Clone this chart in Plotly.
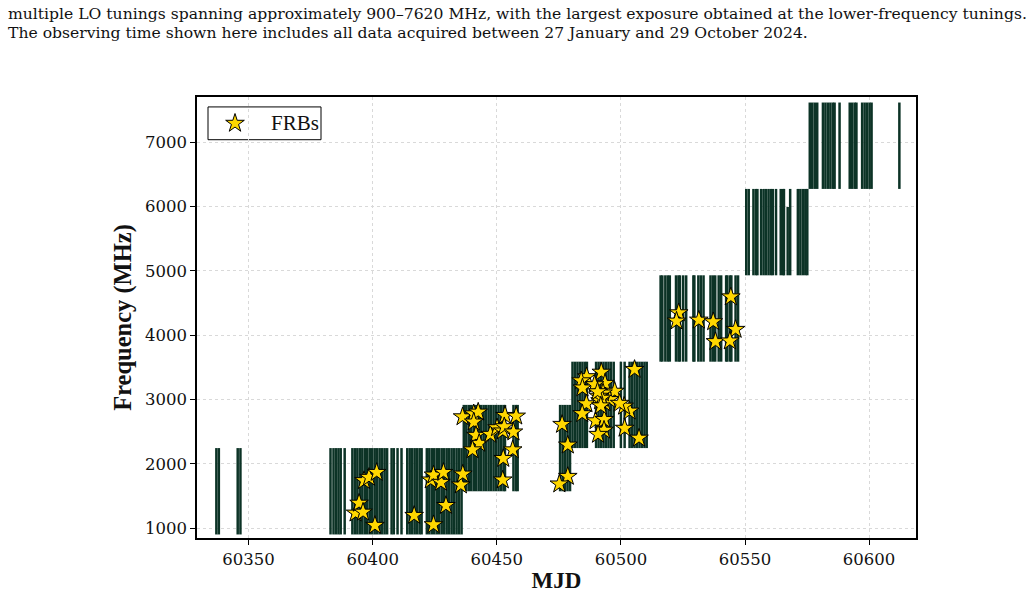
import plotly.graph_objects as go

# ---------------- data ----------------
band_lo = [900, 1572, 2244, 3588, 4932, 6276]
band_hi = [2244, 2916, 3588, 4932, 6276, 7620]

sessions_b1 = [60337.0, 60338.0, 60345.6, 60346.7,
               60383.0, 60384.2, 60385.2, 60386.2, 60387.1, 60388.7,
               60391.8, 60392.8, 60393.8, 60394.8, 60395.8, 60396.8, 60397.8, 60398.8,
               60399.8, 60400.8, 60401.8, 60402.8, 60403.8, 60404.8, 60405.8,
               60407.6, 60408.5, 60410.0, 60411.6,
               60413.9, 60414.9, 60415.9, 60416.9, 60417.9, 60418.9, 60419.7,
               60421.8, 60422.8, 60423.8, 60424.8, 60425.8, 60426.8, 60427.8, 60428.8,
               60429.8, 60430.8, 60431.8, 60432.8, 60433.8, 60434.8, 60435.8]
sessions_b2 = [60436.7, 60437.7, 60438.7, 60439.7, 60440.7, 60441.7, 60442.7, 60443.7,
               60444.7, 60445.7, 60446.7, 60447.7, 60448.7, 60449.7, 60450.7, 60451.7,
               60452.7, 60453.3, 60456.7, 60457.7, 60458.4,
               60475.5, 60476.5, 60477.5, 60478.5, 60479.5]
sessions_b3 = [60480.5, 60481.5, 60482.5, 60483.5, 60484.5, 60485.5, 60486.3,
               60490.0, 60491.0, 60492.0, 60493.0, 60494.0, 60495.0, 60496.0, 60497.1,
               60500.0, 60501.5,
               60503.5, 60504.5, 60505.5, 60506.5, 60507.5, 60508.5, 60509.5, 60510.4]
sessions_b4 = [60516.0, 60516.7, 60517.9, 60518.9, 60519.7, 60522.2, 60523.2, 60523.8,
               60525.1, 60526.3, 60529.2, 60529.6, 60531.2, 60532.2, 60533.3,
               60536.1, 60537.1, 60538.0, 60539.4, 60540.4, 60542.4, 60542.9,
               60544.0, 60544.5, 60546.2, 60547.2]
sessions_b5 = [60550.5, 60551.5, 60553.4, 60554.4, 60555.0, 60556.5, 60557.5, 60558.5,
               60559.5, 60560.5, 60561.2, 60562.5, 60564.4, 60565.4, 60565.7, 60568.2,
               60571.3, 60572.3, 60573.3, 60574.3, 60575.1]
sessions_b6 = [60576.1, 60577.1, 60578.1, 60579.1, 60581.4, 60582.4, 60583.4, 60584.4,
               60585.4, 60586.1, 60588.1, 60592.2, 60593.2, 60594.2, 60594.9,
               60597.2, 60598.2, 60599.2, 60600.2, 60601.0, 60612.2]
# partial-bandwidth session
partial_mjd = [60567.2]
partial_lo = [4932]
partial_hi = [5995]

frb_mjd = [60393.1, 60394.5, 60396.1, 60396.5, 60398.5, 60401.6, 60400.9, 60416.7,
           60423.4, 60424.5, 60427.5, 60428.5, 60424.5, 60429.5, 60435.5, 60436.3,
           60436.2, 60440.7, 60442.5, 60440.7, 60441.6, 60442.9, 60440.2, 60447.4,
           60450.1, 60452.4, 60453.3, 60457.8, 60453.0, 60456.7, 60456.4, 60452.6,
           60452.4,
           60476.3, 60478.6, 60478.6, 60475.2,
           60486.2, 60484.0, 60484.5, 60492.1, 60493.6, 60489.4, 60497.5, 60486.1,
           60484.4, 60493.4, 60495.5, 60492.8, 60489.8, 60493.3, 60493.2, 60490.8,
           60501.5, 60503.5, 60501.3, 60499.5, 60505.5, 60507.3,
           60491.0, 60491.6, 60492.3, 60490.6, 60491.9,
           60523.3, 60522.4, 60531.4, 60537.2, 60544.3, 60546.2, 60538.1, 60543.9]
frb_freq = [1232, 1386, 1247, 1737, 1788, 1865, 1041, 1196,
            1747, 1824, 1711, 1865, 1051, 1350, 1669, 1839,
            2730, 2777, 2803, 2649, 2442, 2318, 2216, 2457,
            2560, 2510, 2751, 2741, 2576, 2494, 2216, 2082,
            1747,
            2612, 2290, 1803, 1685,
            3354, 3290, 3179, 3424, 3250, 3230, 3128, 2933,
            2779, 2947, 2998, 3101, 2668, 2689, 2522, 2457,
            2552, 2819, 2895, 2940, 3467, 2398,
            3050, 2980, 3020, 3120, 2900,
            4348, 4219, 4234, 4209, 4596, 4090, 3900, 3910]

x_ticks = [60350, 60400, 60450, 60500, 60550, 60600]
y_ticks = [1000, 2000, 3000, 4000, 5000, 6000, 7000]

caption_lines = [
    "multiple LO tunings spanning approximately 900\u20137620 MHz, with the largest exposure obtained at the lower-frequency tunings.",
    "The observing time shown here includes all data acquired between 27 January and 29 October 2024.",
]

# ---------------- figure ----------------
line_color = "#0c3326"
star_fill = "#FFD700"
fig = go.Figure()

all_bands = [sessions_b1, sessions_b2, sessions_b3, sessions_b4, sessions_b5, sessions_b6]
for i, sess in enumerate(all_bands):
    xs, ys = [], []
    for m in sess:
        xs += [m, m, None]
        ys += [band_lo[i], band_hi[i], None]
    fig.add_trace(go.Scatter(x=xs, y=ys, mode="lines", line=dict(color=line_color, width=2.5),
                             showlegend=False, hoverinfo="skip"))
xs, ys = [], []
for m, lo, hi in zip(partial_mjd, partial_lo, partial_hi):
    xs += [m, m, None]
    ys += [lo, hi, None]
fig.add_trace(go.Scatter(x=xs, y=ys, mode="lines", line=dict(color=line_color, width=2.5),
                         showlegend=False, hoverinfo="skip"))

fig.add_trace(go.Scatter(x=frb_mjd, y=frb_freq, mode="markers", name="FRBs", showlegend=False,
                         marker=dict(symbol="star", size=14, color=star_fill,
                                     line=dict(color="black", width=1))))

W, H = 1033, 601
L, R, T, B = 197, 916, 97, 541
pw, ph = R - L, B - T

def px_x(x):
    return (x - L) / pw

def px_y(y):
    return (B - y) / ph

# manual legend (box, star symbol on an overlay axis, label)
fig.add_shape(type="rect", xref="paper", yref="paper",
              x0=px_x(208), x1=px_x(321), y0=px_y(140), y1=px_y(107),
              line=dict(color="black", width=1), fillcolor="white", layer="between")
fig.add_trace(go.Scatter(x=[px_x(235)], y=[px_y(123.5)], xaxis="x2", yaxis="y2",
                         mode="markers", showlegend=False, hoverinfo="skip",
                         marker=dict(symbol="star", size=14, color=star_fill,
                                     line=dict(color="black", width=1))))
fig.add_annotation(xref="paper", yref="paper", x=px_x(269), y=px_y(123.5),
                   xanchor="left", yanchor="middle", text="FRBs", showarrow=False,
                   font=dict(family="Liberation Serif", size=21, color="#111"))

for k, txt in enumerate(caption_lines):
    ypx = 13 + 20 * k
    fig.add_annotation(xref="paper", yref="paper", x=px_x(6), y=px_y(ypx),
                       xanchor="left", yanchor="middle", text=txt, showarrow=False,
                       font=dict(family="DejaVu Serif", size=15.6, color="#111"))

axis_common = dict(showline=True, linecolor="black", linewidth=1.5, mirror=True,
                   ticks="outside", ticklen=5, tickwidth=1.2, tickcolor="black",
                   showgrid=True, gridcolor="#d9d9d9", griddash="dot", gridwidth=0.7,
                   zeroline=False, tickformat="d",
                   tickfont=dict(family="DejaVu Serif", size=16.5, color="#111"))

fig.update_layout(
    xaxis=dict(range=[60329.2, 60618.9], tickvals=x_ticks,
               title=dict(text="<b>MJD</b>", font=dict(family="Liberation Serif", size=23, color="#111"),
                          standoff=4), **axis_common),
    yaxis=dict(range=[845, 7706], tickvals=y_ticks,
               title=dict(text="<b>Frequency (MHz)</b>",
                          font=dict(family="Liberation Serif", size=24.5, color="#111"), standoff=6),
               **axis_common),
    xaxis2=dict(overlaying="x", range=[0, 1], visible=False, fixedrange=True),
    yaxis2=dict(overlaying="y", range=[0, 1], visible=False, fixedrange=True),
    width=W, height=H, margin=dict(l=L, r=W - R, t=T, b=H - B),
    plot_bgcolor="white", paper_bgcolor="white", showlegend=False,
)

fig.write_html("out.html")
